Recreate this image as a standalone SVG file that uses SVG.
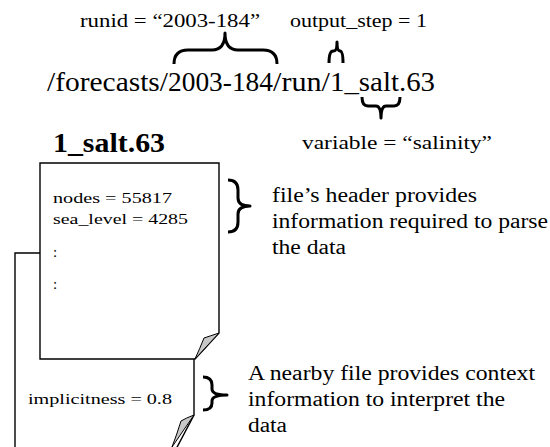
<svg xmlns="http://www.w3.org/2000/svg" width="550" height="447" viewBox="0 0 550 447">
<style>
.t{font-family:Liberation Serif,serif}
.box{fill:#fff;stroke:#000;stroke-width:1.4}
.curl{fill:#c8c8c8;stroke:#000;stroke-width:1}
.brace{fill:none;stroke:#000;stroke-width:3;stroke-linecap:butt;stroke-linejoin:round}
</style>
<rect width="550" height="447" fill="#fff"/>
<g id="path-label" class="t" font-family="Liberation Serif, serif">
<text x="80" y="27" font-size="19" textLength="180" lengthAdjust="spacingAndGlyphs">runid = “2003-184”</text>
<text x="290" y="27" font-size="19" textLength="137" lengthAdjust="spacingAndGlyphs">output_step = 1</text>
<text y="91" font-size="27"><tspan x="47" textLength="121" lengthAdjust="spacingAndGlyphs">/forecasts/</tspan><tspan x="168" textLength="105" lengthAdjust="spacingAndGlyphs">2003-184</tspan><tspan x="273" textLength="57" lengthAdjust="spacingAndGlyphs">/run/</tspan><tspan x="330" textLength="105" lengthAdjust="spacingAndGlyphs">1_salt.63</tspan></text>
<text x="302" y="149" font-size="19" textLength="190" lengthAdjust="spacingAndGlyphs">variable = “salinity”</text>
</g>
<g id="nearby-file" class="t" font-family="Liberation Serif, serif">
<path class="box" d="M15,470 V253 H194 V415 L165,470 Z"/>
<path class="curl" d="M194,415 Q186,418 181,421 Q177,434 172,447 Z"/>
<text x="28" y="404" font-size="15" textLength="144" lengthAdjust="spacingAndGlyphs">implicitness = 0.8</text>
</g>
<g id="salt-file" class="t" font-family="Liberation Serif, serif">
<text x="53" y="152" font-size="27" font-weight="bold" textLength="112" lengthAdjust="spacingAndGlyphs">1_salt.63</text>
<path class="box" d="M40,163 H219 V333 L195,359 H40 Z"/>
<path class="curl" d="M219,333 Q210,336 204,338 Q200,348 195,359 Z"/>
<text x="53" y="203" font-size="15" textLength="119" lengthAdjust="spacingAndGlyphs">nodes = 55817</text>
<text x="53" y="224" font-size="15" textLength="135" lengthAdjust="spacingAndGlyphs">sea_level = 4285</text>
<text x="53" y="257" font-size="15">:</text>
<text x="53" y="289" font-size="15">:</text>
</g>
<g id="header-note" class="t" font-family="Liberation Serif, serif">
<text x="272" y="202" font-size="20" textLength="205" lengthAdjust="spacingAndGlyphs">file’s header provides</text>
<text x="272" y="228" font-size="20" textLength="276" lengthAdjust="spacingAndGlyphs">information required to parse</text>
<text x="272" y="254" font-size="20" textLength="74" lengthAdjust="spacingAndGlyphs">the data</text>
</g>
<g id="context-note" class="t" font-family="Liberation Serif, serif">
<text x="248" y="380" font-size="20" textLength="287" lengthAdjust="spacingAndGlyphs">A nearby file provides context</text>
<text x="248" y="406" font-size="20" textLength="257" lengthAdjust="spacingAndGlyphs">information to interpret the</text>
<text x="248" y="432" font-size="20" textLength="39" lengthAdjust="spacingAndGlyphs">data</text>
</g>
<g id="connectors">
<path class="brace" d="M174,64 Q174,50 188,50 H212 Q225,50 225,33 Q225,50 238,50 H263 Q277,50 277,64"/>
<path class="brace" d="M329,63 Q329,51 333,51 H334 Q337,51 337,42 Q337,51 340,51 H340 Q343,51 343,63"/>
<path class="brace" d="M362,97 Q362,106 368,106 H376 Q381,106 381,118 Q381,106 386,106 H394 Q400,106 400,97"/>
<path class="brace" d="M228,180 Q238,180 238,190 V198 Q238,206 250,206 Q238,206 238,214 V222 Q238,232 228,232"/>
<path class="brace" d="M203,377 Q212,377 212,385 V389 Q212,395 227,395 Q212,395 212,401 V403 Q212,410 203,410"/>
</g>
</svg>
